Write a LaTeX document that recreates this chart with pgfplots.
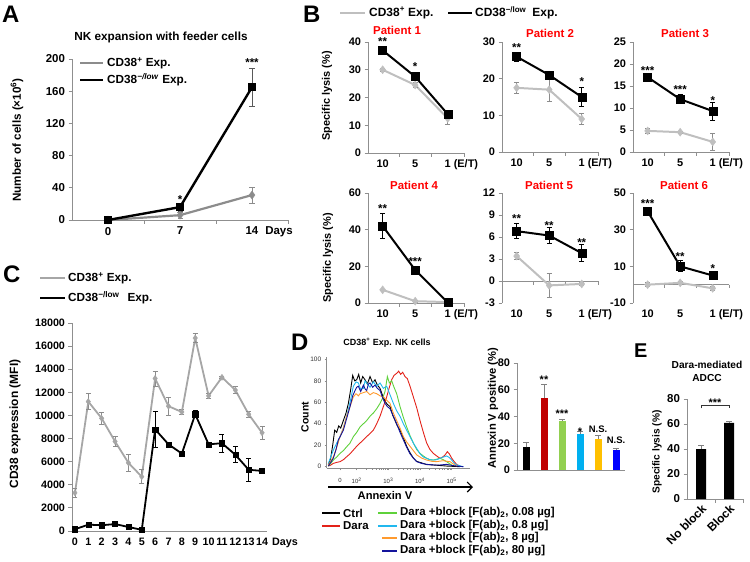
\documentclass[border=0pt]{standalone}
\usepackage{pgfplots}
\pgfplotsset{compat=1.18}
\usepackage{fontspec}
\setmainfont{Liberation Sans}
\usetikzlibrary{arrows.meta}
\definecolor{g1}{HTML}{8C8C8C}
\definecolor{g2}{HTML}{BFBFBF}
\definecolor{g3}{HTML}{A6A6A6}
\definecolor{axg}{HTML}{8F8F8F}
\definecolor{pr}{HTML}{FF0000}
\definecolor{cred}{HTML}{C00000}
\definecolor{cgreen}{HTML}{92D050}
\definecolor{ccyan}{HTML}{00B0F0}
\definecolor{corange}{HTML}{FFC000}
\definecolor{cblue}{HTML}{0000FF}
\definecolor{hred}{HTML}{E32219}
\definecolor{hgreen}{HTML}{5ED13A}
\definecolor{hcyan}{HTML}{21B8EE}
\definecolor{horange}{HTML}{FF9A2E}
\definecolor{hblue}{HTML}{14149C}
\newcommand{\fs}[1]{\fontsize{#1}{#1}\selectfont\bfseries}
\tikzset{st/.style={font=\fs{11.5}, inner sep=0}}
\pgfplotsset{
  xl/.style={
    scale only axis, clip=false,
    axis x line*=bottom, axis y line*=left,
    axis line style={draw=axg, line width=0.8pt, -},
    tick align=outside,
    major tick length=3.5bp, minor tick length=3.5bp,
    tick style={axg, line width=0.8pt},
    major x tick style={draw=none},
    ticklabel style={font=\fs{11}, text=black},
    scaled y ticks=false,
    /pgf/number format/assume math mode=true,
    /pgf/number format/1000 sep={},
    xtick={0,1,2}, minor xtick={0.5,1.5,2.5},
    xmin=-0.45, xmax=2.5,
  },
  eb/.style={error bars/.cd, y dir=both, y explicit,
    error bar style={line width=0.7pt, #1},
    error mark options={rotate=90, mark size=2.5bp, line width=0.7pt, #1}},
  ebp/.style={error bars/.cd, y dir=plus, y explicit,
    error bar style={line width=0.8pt, #1},
    error mark options={rotate=90, mark size=3bp, line width=0.8pt, #1}},
  bb/.style={black, line width=2pt, mark=square*, mark size=4bp, mark options={solid, line width=0.4pt}, eb=black},
  bg/.style={g2, line width=2pt, mark=diamond*, mark size=4bp, mark options={solid, line width=0.4pt}, eb=g1},
  bp/.style={xl, width=96bp, height=110bp, xticklabels={10,5,{1\rlap{\hspace{3bp}(E/T)}}}},
  zl/.style={x axis line style={draw=none}, minor x tick style={draw=none}},
  hist/.style={line width=0.9pt},
}
\begin{document}
\begin{tikzpicture}
\path[use as bounding box] (0,0) rectangle (750bp,-562bp);
% ================= Panel A =================
\node[anchor=base west, inner sep=0, font=\fs{24}] at (2bp,-22bp) {A};
\node[font=\fs{11.8}] at (161bp,-37bp) {NK expansion with feeder cells};
\node[rotate=90, font=\fs{11.7}] at (17bp,-140bp) {Number of cells (×10\textsuperscript{6})};
\draw[g1, line width=2.2pt] (80bp,-63bp) -- (103bp,-63bp);
\node[anchor=west, inner sep=0, font=\fs{11.8}] at (107bp,-63bp) {CD38\textsuperscript{+} Exp.};
\draw[black, line width=2.4pt] (80bp,-80bp) -- (103bp,-80bp);
\node[anchor=west, inner sep=0, font=\fs{11.8}] at (107bp,-80bp) {CD38\textsuperscript{\textit{−/low}} Exp.};
\begin{axis}[xl, at={(72bp,-220bp)}, anchor=south west, width=216bp, height=161bp,
  xmin=-0.5, xmax=2.5, ymin=0, ymax=200, ytick={0,40,...,200},
  xticklabels={0,7,{14\rlap{\hspace{7bp}Days}}}, ticklabel style={font=\fs{11.5}}]
\addplot[g1, line width=2.2pt, mark=diamond*, mark size=4bp, mark options={solid, line width=0.4pt}, eb=g1]
  coordinates {(0,0) +- (0,0.5) (1,6) +- (0,4) (2,31) +- (0,10)};
\addplot[black, line width=2.4pt, mark=square*, mark size=3.5bp, mark options={solid, line width=0.4pt}, eb=black!65]
  coordinates {(0,0) +- (0,0.5) (1,16) +- (0,5) (2,165) +- (0,23.5)};
\node[st] at (axis cs:1,26) {*};
\node[st] at (axis cs:2,195) {***};
\end{axis}
% ================= Panel B =================
\node[anchor=base west, inner sep=0, font=\fs{24}] at (303bp,-22bp) {B};
\draw[g2, line width=2pt] (340bp,-13bp) -- (365bp,-13bp);
\node[anchor=west, inner sep=0, font=\fs{12}] at (369bp,-13bp) {CD38\textsuperscript{+} Exp.};
\draw[black, line width=2pt] (448bp,-13bp) -- (472bp,-13bp);
\node[anchor=west, inner sep=0, font=\fs{12}] at (475bp,-13bp) {CD38\textsuperscript{−/low}\hspace{6bp}Exp.};
\node[rotate=90, font=\fs{11}] at (327bp,-96bp) {Specific lysis (\%)};
\node[rotate=90, font=\fs{11}] at (328bp,-258bp) {Specific lysis (\%)};
\node[font=\fs{11.5}, text=pr] at (397bp,-30bp) {Patient 1};
\node[font=\fs{11.5}, text=pr] at (550bp,-33bp) {Patient 2};
\node[font=\fs{11.5}, text=pr] at (685bp,-33bp) {Patient 3};
\node[font=\fs{11.5}, text=pr] at (414bp,-185bp) {Patient 4};
\node[font=\fs{11.5}, text=pr] at (549bp,-185bp) {Patient 5};
\node[font=\fs{11.5}, text=pr] at (684bp,-185bp) {Patient 6};
% Patient 1
\begin{axis}[bp, at={(368bp,-153bp)}, anchor=south west, height=111bp, ymin=0, ymax=40, ytick={0,10,...,40}]
\addplot[bg] coordinates {(0,30) +- (0,0.6) (1,24.5) +- (0,0.8) (2,12.5) +- (0,2.3)};
\addplot[bb] coordinates {(0,37) +- (0,0.8) (1,27.5) +- (0,0.8) (2,14) +- (0,1)};
\node[st] at (axis cs:0,40) {**};
\node[st] at (axis cs:1,31) {*};
\end{axis}
% Patient 2
\begin{axis}[bp, at={(502bp,-152bp)}, anchor=south west, ymin=0, ymax=30, ytick={0,10,20,30}]
\addplot[bg] coordinates {(0,17.5) +- (0,1.5) (1,17) +- (0,3.3) (2,9) +- (0,1.5)};
\addplot[bb] coordinates {(0,26) +- (0,1.2) (1,21) +- (0,1) (2,15) +- (0,2.5)};
\node[st] at (axis cs:0,28.6) {**};
\node[st] at (axis cs:2,19.1) {*};
\end{axis}
% Patient 3
\begin{axis}[bp, at={(633bp,-152bp)}, anchor=south west, ymin=0, ymax=25, ytick={0,5,...,25}]
\addplot[bg] coordinates {(0,4.8) +- (0,0.5) (1,4.5) +- (0,0.3) (2,2.3) +- (0,1.9)};
\addplot[bb] coordinates {(0,17) +- (0,0.3) (1,12) +- (0,1) (2,9.3) +- (0,2)};
\node[st] at (axis cs:0,18.6) {***};
\node[st] at (axis cs:1,14.1) {***};
\node[st] at (axis cs:2,11.8) {*};
\end{axis}
% Patient 4
\begin{axis}[bp, at={(368bp,-303bp)}, anchor=south west, ymin=0, ymax=60, ytick={0,20,40,60}]
\addplot[bg] coordinates {(0,7.2) +- (0,0.5) (1,1) +- (0,0.5) (2,0.5) +- (0,0.5)};
\addplot[bb] coordinates {(0,42) +- (0,7) (1,18) +- (0,0.8) (2,0.3) +- (0,0.5)};
\node[st] at (axis cs:0,51.3) {**};
\node[st] at (axis cs:1,22.4) {***};
\end{axis}
% Patient 5
\begin{axis}[bp, zl, at={(502bp,-303bp)}, anchor=south west, ymin=-3, ymax=12, ytick={-3,0,...,12}]
\draw[axg, line width=0.8pt] (axis cs:-0.45,0) -- (axis cs:2.5,0);
\pgfplotsinvokeforeach{0.5,1.5,2.5}{\draw[axg, line width=0.8pt] (axis cs:#1,0) -- ([yshift=-3.5bp]axis cs:#1,0);}
\addplot[bg] coordinates {(0,3.4) +- (0,0.5) (1,-0.6) +- (0,1.65) (2,-0.4) +- (0,0.2)};
\addplot[bb] coordinates {(0,6.8) +- (0,1) (1,6.2) +- (0,1.05) (2,3.8) +- (0,1.15)};
\node[st] at (axis cs:0,8.45) {**};
\node[st] at (axis cs:1,7.6) {**};
\node[st] at (axis cs:2,5.3) {**};
\end{axis}
% Patient 6
\begin{axis}[bp, zl, at={(633bp,-303bp)}, anchor=south west, ymin=-10, ymax=50, ytick={-10,10,30,50}]
\draw[axg, line width=0.8pt] (axis cs:-0.45,0) -- (axis cs:2.5,0);
\pgfplotsinvokeforeach{0.5,1.5,2.5}{\draw[axg, line width=0.8pt] (axis cs:#1,0) -- ([yshift=-3.5bp]axis cs:#1,0);}
\addplot[bg] coordinates {(0,0) +- (0,1) (1,1) +- (0,0.8) (2,-2) +- (0,1)};
\addplot[bb] coordinates {(0,40) +- (0,1) (1,10) +- (0,3) (2,5) +- (0,2)};
\node[st] at (axis cs:0,44) {***};
\node[st] at (axis cs:1,15.1) {**};
\node[st] at (axis cs:2,8.6) {*};
\end{axis}
% ================= Panel C =================
\node[anchor=base west, inner sep=0, font=\fs{24}] at (3bp,-282bp) {C};
\draw[g3, line width=2pt] (40bp,-278bp) -- (65bp,-278bp);
\node[anchor=west, inner sep=0, font=\fs{11.8}] at (68bp,-278bp) {CD38\textsuperscript{+} Exp.};
\draw[black, line width=2pt] (40bp,-298bp) -- (65bp,-298bp);
\node[anchor=west, inner sep=0, font=\fs{11.8}] at (68bp,-298bp) {CD38\textsuperscript{−/low}\hspace{8bp}Exp.};
\node[rotate=90, font=\fs{12}] at (15bp,-424bp) {CD38 expression (MFI)};
\begin{axis}[xl, at={(72bp,-531bp)}, anchor=south west, width=195bp, height=208bp,
  xmin=-0.22, xmax=14.37, ymin=0, ymax=18000, ytick={0,2000,...,18000},
  xtick={0,...,14}, minor xtick={}, ticklabel style={font=\fs{10.8}},
  xticklabels={0,1,2,3,4,5,6,7,8,9,10,11,12,13,{14\rlap{\hspace{4bp}Days}}}]
\addplot[g3, line width=1.8pt, mark=diamond*, mark size=3bp, mark options={solid, line width=0.4pt}, eb=g1]
  coordinates {(0,3300) +- (0,400) (1,11200) +- (0,700) (2,9750) +- (0,500) (3,7750) +- (0,450)
  (4,5900) +- (0,700) (5,4700) +- (0,600) (6,13200) +- (0,650) (7,10800) +- (0,750)
  (8,10300) +- (0,200) (9,16700) +- (0,400) (10,11700) +- (0,250) (11,13300) +- (0,100)
  (12,12200) +- (0,300) (13,10100) +- (0,250) (14,8500) +- (0,550)};
\addplot[black, line width=1.8pt, mark=square*, mark size=2.6bp, mark options={solid, line width=0.4pt}, eb=black]
  coordinates {(0,150) +- (0,50) (1,550) +- (0,80) (2,500) +- (0,50) (3,600) +- (0,50)
  (4,350) +- (0,80) (5,100) +- (0,50) (6,8800) +- (0,1550) (7,7500) +- (0,100)
  (8,6700) +- (0,150) (9,10100) +- (0,300) (10,7500) +- (0,100) (11,7600) +- (0,800)
  (12,6600) +- (0,700) (13,5300) +- (0,1000) (14,5200) +- (0,100)};
\end{axis}
% ================= Panel D =================
\node[anchor=base west, inner sep=0, font=\fs{24}] at (291bp,-350bp) {D};
\node[font=\fs{9}] at (387bp,-343bp) {CD38\textsuperscript{+} Exp. NK cells};
\node[rotate=90, font=\fs{10.5}] at (305bp,-417bp) {Count};
\begin{axis}[scale only axis, clip=false, at={(326.7bp,-468.3bp)}, anchor=south west,
  width=143.3bp, height=111.1bp, xmin=80, xmax=510, ymin=-1.5, ymax=102,
  axis x line*=bottom, axis y line*=left,
  axis line style={draw=g1, line width=0.6pt, -},
  tick align=outside, major tick length=2bp, minor tick length=1.3bp,
  tick style={g1, line width=0.5pt},
  ytick={0,20,40,60,80,100},
  /pgf/number format/assume math mode=true,
  xtick={120,170,265,360,455},
  xticklabels={0,10\textsuperscript{2},10\textsuperscript{3},10\textsuperscript{4},10\textsuperscript{5}},
  minor xtick={198.6,215.3,227.2,236.4,243.9,250.3,255.8,260.7,293.6,310.3,322.2,331.4,338.9,345.3,350.8,355.7,388.6,405.3,417.2,426.4,433.9,440.3,445.8,450.7},
  xticklabel style={font=\fontsize{6}{6}\selectfont, text=black!80, yshift=-4bp},
  yticklabel style={font=\fontsize{6.5}{7}\selectfont, text=black!80, anchor=east}]
\addplot[hist, black] coordinates {(85,1.6) (92,8) (98,20) (104,34) (110,32) (116,38) (122,36) (130,43) (138,50) (145,59) (152,72) (158,85) (164,80) (170,81) (176,86) (182,78) (188,84) (195,81) (202,77) (210,84) (218,78) (225,81) (232,76) (240,73) (248,66) (255,61) (262,58) (270,56) (278,48) (285,43) (292,38) (300,34) (310,27) (320,19) (330,13) (340,8) (350,5) (360,4) (380,2) (400,1.6) (440,0.6) (480,0)};
\addplot[hist, hred] coordinates {(85,0.6) (92,1.5) (100,3.1) (110,4) (120,4.7) (130,6.5) (140,9.3) (150,12) (160,15.5) (170,19) (180,22) (190,25) (200,28) (210,31) (220,34) (230,40) (240,47) (250,56) (260,65) (268,74) (275,81) (282,85) (290,87) (296,89) (302,86) (308,88) (315,84) (322,82) (330,75) (340,65) (350,55) (360,43) (370,32) (380,22) (390,16) (400,12.4) (410,10) (420,7.8) (428,9) (435,10.9) (442,14) (448,12) (455,8) (462,5) (470,2) (480,0.6)};
\addplot[hist, hgreen] coordinates {(85,0.6) (92,3) (100,6.2) (110,9) (120,12.4) (130,15) (140,18.6) (150,22) (160,28) (170,32) (180,37) (190,40) (200,43) (210,47) (220,50) (230,54) (240,59) (248,64) (255,70) (262,84) (268,78) (275,80) (282,74) (290,68) (300,56) (310,46) (320,37) (330,29) (340,22) (350,16) (360,12.4) (370,10) (380,7.8) (390,6.5) (400,6.2) (410,7) (420,7.8) (430,6.5) (440,4.7) (450,2.5) (460,0.6)};
\addplot[hist, hcyan] coordinates {(85,3) (92,9) (100,15.5) (110,22) (120,28) (130,36) (140,47) (150,60) (160,75) (168,79) (175,78) (182,72) (190,73) (195,80) (200,78) (210,74) (220,79) (230,75) (240,78) (250,73) (260,75) (270,67) (280,59) (290,52) (300,47) (310,40) (320,34) (330,28) (340,22) (350,17) (360,12) (370,9) (380,7.8) (390,6.5) (400,6.2) (410,6.5) (420,7.8) (430,9) (440,10) (448,8.5) (455,6.2) (462,3.5) (470,1.6) (490,0)};
\addplot[hist, horange] coordinates {(85,1.6) (92,5) (100,9.3) (110,18) (120,28) (130,36) (140,47) (150,56) (160,65) (168,68) (175,66) (180,68) (190,69) (200,70) (210,67) (220,69) (230,68) (240,66) (250,65) (260,62) (270,59) (280,50) (290,43) (300,36) (310,28) (320,23) (330,19) (340,15) (350,11) (365,8) (380,6.2) (395,5) (410,4.7) (420,5.2) (430,5.6) (440,5) (450,4.7) (460,2.5) (470,0.6)};
\addplot[hist, hblue] coordinates {(85,0.6) (92,4) (100,8) (108,16) (115,25) (122,29) (130,34) (140,45) (150,56) (158,66) (165,71) (170,74) (175,75) (182,70) (190,76) (196,72) (200,71) (205,77) (210,78) (218,74) (225,76) (232,73) (240,71) (248,64) (255,59) (262,56) (270,54) (280,47) (290,40) (300,32) (310,25) (320,18) (330,12) (340,8) (350,4.7) (365,3) (380,2.2) (400,1.6) (420,1.6) (440,2.2) (455,1.2) (470,0.6) (490,0)};
\end{axis}
\draw[-{Straight Barb[length=5bp, width=10bp]}, line width=1.1pt] (328bp,-487bp) -- (473bp,-487bp);
\node[font=\fs{11.2}] at (385bp,-496bp) {Annexin V};
% legend D
\draw[black, line width=2pt] (322bp,-513bp) -- (340bp,-513bp);
\node[anchor=west, inner sep=0, font=\fs{11.5}] at (343bp,-513bp) {Ctrl};
\draw[hred, line width=2pt] (322bp,-526bp) -- (340bp,-526bp);
\node[anchor=west, inner sep=0, font=\fs{11.5}] at (343bp,-526bp) {Dara};
\draw[hgreen, line width=2pt] (378bp,-513bp) -- (397bp,-513bp);
\node[anchor=west, inner sep=0, font=\fs{11.5}] at (400bp,-513bp) {Dara +block [F(ab)\textsubscript{2}, 0.08 µg]};
\draw[hcyan, line width=2pt] (378bp,-526bp) -- (397bp,-526bp);
\node[anchor=west, inner sep=0, font=\fs{11.5}] at (400bp,-526bp) {Dara +block [F(ab)\textsubscript{2}, 0.8 µg]};
\draw[horange, line width=2pt] (382bp,-538bp) -- (397bp,-538bp);
\node[anchor=west, inner sep=0, font=\fs{11.5}] at (400bp,-538bp) {Dara +block [F(ab)\textsubscript{2}, 8 µg]};
\draw[hblue, line width=2pt] (382bp,-551bp) -- (397bp,-551bp);
\node[anchor=west, inner sep=0, font=\fs{11.5}] at (400bp,-551bp) {Dara +block [F(ab)\textsubscript{2}, 80 µg]};
% bar chart D
\node[rotate=90, font=\fs{11.2}] at (493bp,-408bp) {Annexin V positive (\%)};
\begin{axis}[xl, at={(517bp,-470bp)}, anchor=south west, width=108bp, height=107bp,
  xmin=-0.5, xmax=5.5, ymin=0, ymax=80, ytick={0,20,...,80},
  xtick=\empty, minor xtick={0.5,1.5,2.5,3.5,4.5,5.5}, ticklabel style={font=\fs{11}}]
\addplot[ybar, bar width=7bp, bar shift=0pt, fill=black, draw=none, ebp=gray] coordinates {(0,17) +- (0,3.5)};
\addplot[ybar, bar width=7bp, bar shift=0pt, fill=cred, draw=none, ebp=gray] coordinates {(1,54) +- (0,10)};
\addplot[ybar, bar width=7bp, bar shift=0pt, fill=cgreen, draw=none, ebp=gray] coordinates {(2,37) +- (0,1)};
\addplot[ybar, bar width=7bp, bar shift=0pt, fill=ccyan, draw=none, ebp=gray] coordinates {(3,27) +- (0,2)};
\addplot[ybar, bar width=7bp, bar shift=0pt, fill=corange, draw=none, ebp=gray] coordinates {(4,23) +- (0,3)};
\addplot[ybar, bar width=7bp, bar shift=0pt, fill=cblue, draw=none, ebp=gray] coordinates {(5,15) +- (0,1.5)};
\node[st, font=\fs{11}] at (axis cs:1,67.3) {**};
\node[st, font=\fs{11}] at (axis cs:2,41.9) {***};
\node[st, font=\fs{11}] at (axis cs:3,28.4) {*};
\node[st, font=\fs{9.5}] at (axis cs:4,30.7) {N.S.};
\node[st, font=\fs{9.5}] at (axis cs:5,22.4) {N.S.};
\end{axis}
% ================= Panel E =================
\node[anchor=base west, inner sep=0, font=\fs{20}] at (634bp,-357bp) {E};
\node[font=\fs{10.2}] at (707bp,-365bp) {Dara-mediated};
\node[font=\fs{10.2}] at (707bp,-378bp) {ADCC};
\node[rotate=90, font=\fs{10.2}] at (657bp,-452bp) {Specific lysis (\%)};
\begin{axis}[xl, at={(687bp,-499bp)}, anchor=south west, width=56bp, height=100bp,
  xmin=-0.5, xmax=1.5, ymin=0, ymax=80, ytick={0,20,...,80},
  xtick={0,1}, minor xtick={0.5,1.5}, xticklabels={No block,Block},
  ticklabel style={font=\fs{11.5}},
  xticklabel style={font=\fs{12}, rotate=45, anchor=north east, inner sep=0.5bp}]
\addplot[ybar, bar width=10bp, bar shift=0pt, fill=black, draw=none, ebp=gray] coordinates {(0,40) +- (0,3) (1,61) +- (0,1)};
\draw[line width=0.6pt, black!80] (axis cs:0,72.5) -- (axis cs:0,75.2) -- (axis cs:1,75.2) -- (axis cs:1,72.5);
\node[font=\fs{11}, anchor=south, inner sep=0.3bp] at (axis cs:0.5,74) {***};
\end{axis}
\end{tikzpicture}
\end{document}
